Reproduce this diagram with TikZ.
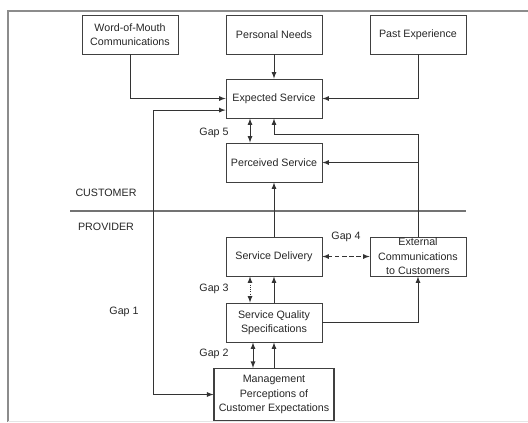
\documentclass[tikz,border=0pt]{standalone}
\usepackage{fontspec}
\setmainfont{Liberation Sans}
\usetikzlibrary{arrows}
\tikzstyle{box} = [rectangle, minimum width=2.4cm, minimum height=0.975cm, text centered, align=center, draw=black!75, line width=0.6pt, text=black!85]
\tikzstyle{bigbox} = [rectangle, minimum width=3cm, minimum height=1.3cm, text centered, align=center, draw=black!75, line width=0.8pt, text=black!85]
\tikzstyle{lbl} = [text=black!85]
\tikzstyle{arrow} = [line width=0.6pt, draw=black!80, ->, >=latex]
\tikzstyle{darrow} = [line width=0.6pt, draw=black!80, <->, >=latex]
\tikzstyle{frame} = [line width=1pt, draw=black!45]
\tikzstyle{divider} = [line width=0.9pt, draw=black!55]

\begin{document}
\begin{tikzpicture}[node distance=3.6cm, font=\fontsize{7.6}{10.2}\selectfont]
\useasboundingbox (0,0) rectangle (13.2,-10.55);

%frame
\draw [frame] (13.2,-0.275) -- (0.2,-0.275) -- (0.2,-10.55);
\draw [draw=black!10, line width=0.6pt] (0.2,-10.53) -- (13.2,-10.53);

%Customer side
\node (pn) [box] at (6.85,-0.8625) {Personal Needs};
\node (wom) [box, left of=pn] {Word-of-Mouth\\Communications};
\node (pe) [box, right of=pn] {Past Experience};
\node (es) [box, below of=pn, yshift=2cm] {Expected Service};
\node (ps) [box, below of=es, yshift=2cm] {Perceived Service};
%Provider side
\node (sd) [box, below of=ps, yshift=1.25cm] {Service Delivery};
\node (ec) [box, right of=sd, inner sep=0pt] {External\\Communications\\to Customers};
\node (sqs) [box, below of=sd, yshift=1.95cm] {Service Quality\\Specifications};
\node (mp) [bigbox, below of=sqs, yshift=1.8cm] {Management\\Perceptions of\\Customer Expectations};

%labels
\node (customer) [lbl] at (2.65,-4.825) {CUSTOMER};
\node (provider) [lbl] at (2.65,-5.675) {PROVIDER};
\draw [divider] (1.75,-5.275) -- (11.65,-5.275);
\node (gap5) [lbl] at (5.35,-3.325) {Gap 5};
\node (gap4) [lbl] at (8.65,-5.925) {Gap 4};
\node (gap3) [lbl] at (5.35,-7.225) {Gap 3};
\node (gap2) [lbl] at (5.35,-8.85) {Gap 2};
\node (gap1) [lbl] at (3.1,-7.8) {Gap 1};

%arrows
\draw [arrow] (wom.south) |- (es.west);
\draw [arrow] (pn) -- (es);
\draw [arrow] (pe.south) |- (es.east);
\draw [darrow] ([yshift=-0.29cm]es.west) -- ++(-1.8,0) |- (mp.west);
\draw [darrow] ([xshift=-0.6cm]es.south) -- ([xshift=-0.6cm]ps.north);
\draw [arrow] (ec.north) |- ([yshift=-0.4cm]es.south) -- (es.south);
\draw [arrow] (ec.north |- ps.east) -- (ps.east);
\draw [arrow] (sd) -- (ps);
\draw [darrow, densely dashed] (sd.east) -- (ec.west);
\draw [darrow, densely dotted] ([xshift=-0.6cm]sd.south) -- ([xshift=-0.6cm]sqs.north);
\draw [arrow] (sqs) -- (sd);
\draw [arrow] (sqs.east) -| (ec.south);
\draw [darrow] ([xshift=-0.525cm]sqs.south) -- ([xshift=-0.525cm]mp.north);
\draw [arrow] (mp) -- (sqs);

\end{tikzpicture}
\end{document}
